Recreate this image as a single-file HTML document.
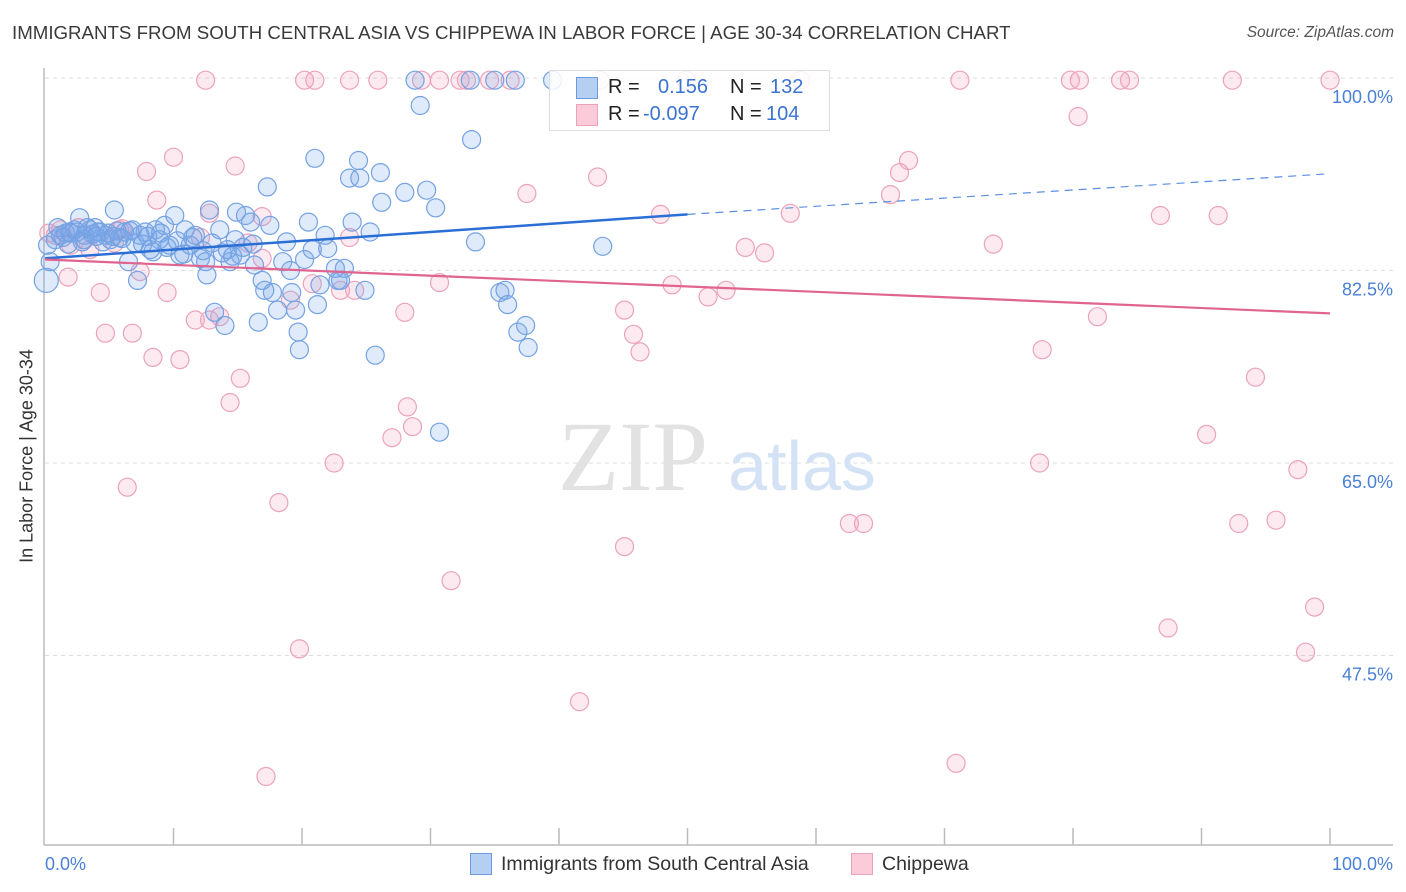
<!DOCTYPE html>
<html><head><meta charset="utf-8"><style>
body{margin:0;background:#fff;font-family:"Liberation Sans",sans-serif}
#c{position:relative;width:1406px;height:892px;overflow:hidden}
.t{position:absolute;white-space:nowrap}
</style></head><body>
<div id="c">
<div class="t" style="left:12px;top:22px;font-size:18.7px;color:#3a3a3a">IMMIGRANTS FROM SOUTH CENTRAL ASIA VS CHIPPEWA IN LABOR FORCE | AGE 30-34 CORRELATION CHART</div>
<div class="t" style="right:12px;top:24px;font-size:15.5px;color:#555;font-style:italic">Source: ZipAtlas.com</div>
<div class="t" style="left:27px;top:456px;font-size:18px;color:#333;transform:translate(-50%,-50%) rotate(-90deg)">In Labor Force | Age 30-34</div>
<svg id="s" width="1406" height="892" style="position:absolute;left:0;top:0"></svg>
</div>
<script>
const yTicks=[100,82.5,65,47.5];
const yTickLabels=["100.0%","82.5%","65.0%","47.5%"];
const blueX=[0.1,0.4,0.2,0.8,1.2,1.6,1.9,2.3,2.7,3.1,3.5,3.9,4.3,4.7,5.1,5.4,5.8,6.2,6.5,6.8,7.2,7.4,7.8,8.2,8.6,8.9,9.3,9.7,10.1,10.5,10.9,11.3,11.7,12.1,12.5,12.6,12.8,13.2,13.6,14.0,14.2,14.4,14.8,14.9,15.2,15.6,16.0,16.3,16.6,16.9,17.1,17.3,17.5,17.7,18.1,18.5,18.8,19.1,19.2,19.5,19.7,19.8,20.2,20.5,20.8,21.0,21.2,21.4,21.8,22.0,22.6,22.8,23.0,23.3,23.7,23.9,24.4,24.5,24.9,25.3,25.7,26.1,26.2,28.0,29.2,29.7,30.4,30.7,33.2,33.5,35.4,35.8,36.0,36.8,37.4,37.6,43.4,28.8,33.1,35.0,36.6,39.5,1.0,1.4,2.0,2.5,3.0,3.3,3.7,4.1,4.5,4.9,5.3,5.6,6.0,6.6,7.0,7.6,8.0,8.4,9.0,9.5,10.3,10.8,11.5,12.3,13.0,13.8,14.6,15.4,16.2,1.8,2.9,4.0];
const blueY=[81.6,83.3,84.8,85.3,85.7,85.9,86.0,86.2,87.3,85.7,86.2,86.4,86.0,85.7,85.3,88.0,85.5,86.0,83.3,86.2,81.6,85.7,86.0,84.4,86.2,85.3,86.6,84.8,87.5,83.9,86.2,84.8,85.7,83.6,83.3,82.1,88.0,78.7,86.2,77.5,84.4,83.3,85.3,87.8,83.9,87.5,86.9,83.0,77.8,81.6,80.7,90.1,86.6,80.5,78.9,83.3,85.1,82.5,80.5,78.9,76.9,75.3,83.5,86.9,84.4,92.7,79.4,81.2,85.7,84.5,82.7,81.6,81.6,82.7,90.9,86.9,92.5,90.9,80.7,86.0,74.8,91.4,88.7,89.6,97.5,89.8,88.2,67.8,94.4,85.1,80.5,80.7,79.4,76.9,77.5,75.5,84.7,99.8,99.8,99.8,99.8,99.8,86.4,85.5,85.9,86.0,85.3,86.4,85.8,86.0,85.1,85.9,85.6,86.1,85.4,86.1,85.0,84.9,85.6,84.2,85.9,84.6,85.2,84.0,85.5,84.3,85.0,84.1,83.8,84.6,84.9,84.9,85.1,85.6];
const pinkX=[12.5,20.2,21.0,23.7,25.9,29.3,30.7,32.3,32.8,34.6,36.2,43.2,49.9,58.8,71.2,79.8,80.5,83.7,84.4,92.4,100,80.4,67.2,66.5,65.8,10.0,14.8,7.9,43.0,37.5,8.7,58.0,47.9,86.8,91.3,12.8,16.9,73.8,54.5,56.0,23.7,15.8,1.2,0.8,1.8,4.3,7.4,9.5,30.7,48.8,51.6,53.0,20.8,23.0,24.1,19.1,28.0,45.1,45.8,46.3,4.7,6.8,8.4,10.5,11.7,12.8,13.6,81.9,77.6,94.2,15.2,14.4,28.2,28.6,27.0,90.4,22.5,77.4,97.5,6.4,18.2,62.6,63.7,92.9,95.8,45.1,31.6,98.8,87.4,19.8,98.1,41.6,17.2,70.9,3.1,3.5,5.4,5.8,12.1,16.9,0.3,2.0,2.6,6.0];
const pinkY=[99.8,99.8,99.8,99.8,99.8,99.8,99.8,99.8,99.8,99.8,99.8,99.8,99.8,99.8,99.8,99.8,99.8,99.8,99.8,99.8,99.8,96.5,92.5,91.4,89.4,92.8,92.0,91.5,91.0,89.5,88.9,87.7,87.6,87.5,87.5,87.7,87.4,84.9,84.6,84.1,85.5,85.0,86.2,85.7,81.9,80.5,82.4,80.5,81.4,81.2,80.1,80.7,81.3,80.7,80.7,79.8,78.7,78.9,76.7,75.1,76.8,76.8,74.6,74.4,78.0,78.0,78.3,78.3,75.3,72.8,72.7,70.5,70.1,68.3,67.3,67.6,65.0,65.0,64.4,62.8,61.4,59.5,59.5,59.5,59.8,57.4,54.3,51.9,50.0,48.1,47.8,43.3,36.5,37.7,85.3,84.4,85.0,86.2,85.5,83.6,85.9,84.8,86.4,86.3];
const blueTrendX=[0,50,100], blueTrendY=[83.6,87.6,91.3];
const pinkTrendX=[0,100], pinkTrendY=[83.5,78.6];

const L=45,R=1330,T=78;
const xs=v=>L+(R-L)*v/100;
const ys=v=>T+(100-v)*11;
const svg=document.getElementById('s');
const NS='http://www.w3.org/2000/svg';
function mk(tag,at,parent){const e=document.createElementNS(NS,tag);for(const k in at)e.setAttribute(k,at[k]);(parent||svg).appendChild(e);return e;}
yTicks.forEach((v,i)=>{
 const g=mk('line',{x1:L,x2:1393,y1:ys(v),y2:ys(v),stroke:'#dcdcdc','stroke-dasharray':'4,4','stroke-width':1});
 
 
 const t=mk('text',{x:1393,y:ys(v)+25,'text-anchor':'end','font-size':18,fill:'#4a7fd6','font-family':'Liberation Sans, sans-serif'});
 t.textContent=yTickLabels[i];
 
 
});
let ax=mk('line',{x1:44,x2:44,y1:68,y2:845,stroke:'#bbb','stroke-width':1.5});


ax=mk('line',{x1:44,x2:1393,y1:845,y2:845,stroke:'#bbb','stroke-width':1.5});


for(let i=1;i<=10;i++){const tk=mk('line',{x1:xs(i*10),x2:xs(i*10),y1:828,y2:845,stroke:'#bbb','stroke-width':1.5});
 
 }
[['0.0%',45,'start'],['100.0%',1393,'end']].forEach(a=>{const t=mk('text',{x:a[1],y:870,'text-anchor':a[2],'font-size':18,fill:'#4a7fd6','font-family':'Liberation Sans, sans-serif'});t.textContent=a[0];
 
 });
let w=mk('text',{x:633,y:490,'text-anchor':'middle','font-size':100,fill:'#e2e2e2','font-family':'Liberation Serif, serif'});w.textContent='ZIP';


w=mk('text',{x:802,y:490,'text-anchor':'middle','font-size':70,fill:'#d4e2f6','font-family':'Liberation Sans, sans-serif'});w.textContent='atlas';


pinkX.forEach((v,i)=>{const c=mk('circle',{cx:xs(v),cy:ys(pinkY[i]),r:9,fill:'rgba(244,160,188,0.22)',stroke:'#eba2bb','stroke-width':1.2});
 
 });
blueX.forEach((v,i)=>{const c=mk('circle',{cx:xs(v),cy:ys(blueY[i]),r:(i==0?12:9),fill:'rgba(120,168,235,0.24)',stroke:'#74a2e2','stroke-width':1.2});
 
 });
let tl=mk('line',{x1:xs(blueTrendX[0]),y1:ys(blueTrendY[0]),x2:xs(blueTrendX[1]),y2:ys(blueTrendY[1]),stroke:'#2a6fd6','stroke-width':2.5});


tl=mk('line',{x1:xs(blueTrendX[1]),y1:ys(blueTrendY[1]),x2:xs(blueTrendX[2]),y2:ys(blueTrendY[2]),stroke:'#5a8fe0','stroke-width':1.2,'stroke-dasharray':'8,6'});


tl=mk('line',{x1:xs(pinkTrendX[0]),y1:ys(pinkTrendY[0]),x2:xs(pinkTrendX[1]),y2:ys(pinkTrendY[1]),stroke:'#e0648f','stroke-width':2.2});


</script>
<div style="position:absolute;left:549px;top:70px;width:279px;height:59px;border:1px solid #ddd;background:rgba(255,255,255,0.85);font-size:20px;color:#222">
 <div style="position:absolute;left:26px;top:6px;width:20px;height:20px;background:#b5cff3;border:1px solid #6a9be0"></div>
 <div class="t" style="left:58px;top:5px">R =</div><div class="t" style="left:108px;top:5px;color:#3a73d0">0.156</div>
 <div class="t" style="left:180px;top:5px">N =</div><div class="t" style="left:220px;top:5px;color:#3a73d0">132</div>
 <div style="position:absolute;left:26px;top:33px;width:20px;height:20px;background:#fbcbd9;border:1px solid #eba2bb"></div>
 <div class="t" style="left:58px;top:32px">R =</div><div class="t" style="left:93px;top:32px;color:#3a73d0">-0.097</div>
 <div class="t" style="left:180px;top:32px">N =</div><div class="t" style="left:216px;top:32px;color:#3a73d0">104</div>
</div>
<div style="position:absolute;left:470px;top:853px;font-size:19.5px;color:#333">
 <div style="position:absolute;left:0;top:0;width:20px;height:20px;background:#b5cff3;border:1px solid #6a9be0"></div>
 <div class="t" style="left:31px;top:0">Immigrants from South Central Asia</div></div>
<div style="position:absolute;left:851px;top:853px;font-size:19.5px;color:#333">
 <div style="position:absolute;left:0;top:0;width:20px;height:20px;background:#fbcbd9;border:1px solid #eba2bb"></div>
 <div class="t" style="left:31px;top:0">Chippewa</div></div>
</body></html>
